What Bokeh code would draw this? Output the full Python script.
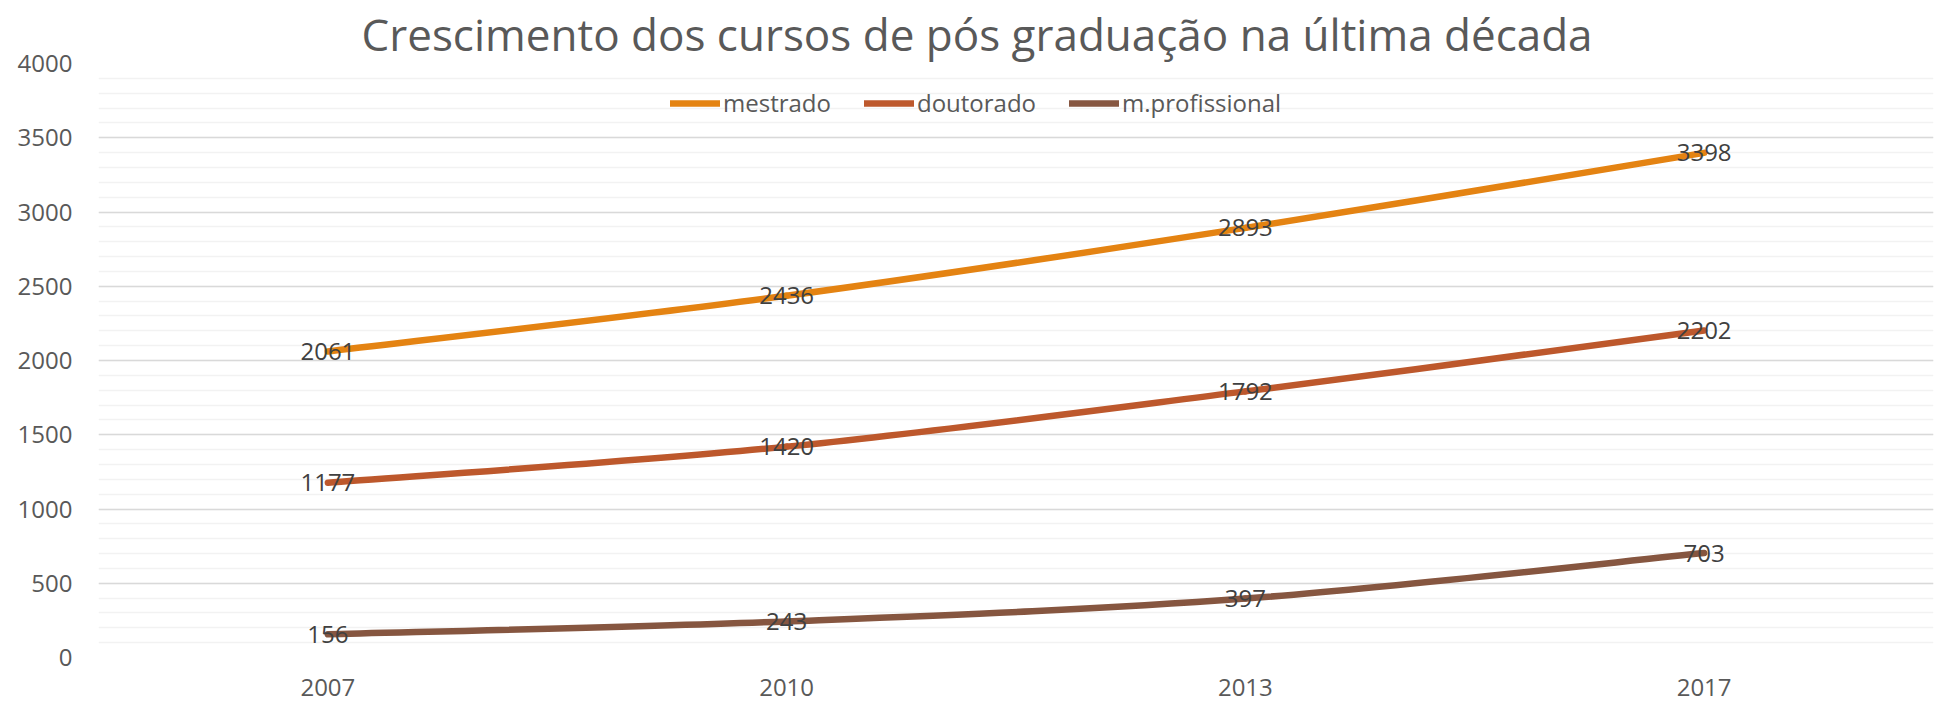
from bokeh.plotting import figure
from bokeh.models import ColumnDataSource, Range1d, SingleIntervalTicker, FixedTicker, Legend, LegendItem
from bokeh.core.properties import value
from bokeh.embed import file_html
from bokeh.resources import INLINE

# ---- data ----
years = ["2007", "2010", "2013", "2017"]
mestrado = [2061, 2436, 2893, 3398]
doutorado = [1177, 1420, 1792, 2202]
m_profissional = [156, 243, 397, 703]
series_names = ["mestrado", "doutorado", "m.profissional"]
series_values = [mestrado, doutorado, m_profissional]
series_colors = ["#E48312", "#BD582C", "#865640"]

FONT = "Open Sans"
W, H = 1937, 704

p = figure(width=W, height=H, output_backend="svg", toolbar_location=None,
           x_range=Range1d(-0.5, len(years) - 0.5), y_range=Range1d(0, 4000),
           min_border_left=98, min_border_right=4, min_border_top=63, min_border_bottom=47)
p.outline_line_color = None
p.background_fill_color = "white"
p.border_fill_color = "white"

# title
p.title.text = "Crescimento dos cursos de pós graduação na última década"
p.title.align = "left"
p.title.offset = 263
p.title.standoff = 0
p.title.text_font = FONT
p.title.text_font_size = "44px"
p.title.text_font_style = "normal"
p.title.text_color = "#595959"

# axes
p.yaxis.ticker = SingleIntervalTicker(interval=500, num_minor_ticks=5)
p.xaxis.ticker = FixedTicker(ticks=list(range(len(years))))
p.xaxis.major_label_overrides = {i: y for i, y in enumerate(years)}
for ax in (p.xaxis[0], p.yaxis[0]):
    ax.axis_line_color = None
    ax.major_tick_line_color = None
    ax.minor_tick_line_color = None
    ax.major_label_text_font = FONT
    ax.major_label_text_font_size = "24px"
    ax.major_label_text_color = "#595959"
p.yaxis.major_label_standoff = 20
p.xaxis.major_label_standoff = 15

p.xgrid.grid_line_color = None
p.ygrid.grid_line_color = "#D9D9D9"
p.ygrid.grid_line_width = 1.5
p.ygrid.minor_grid_line_color = "#F2F2F2"
p.ygrid.minor_grid_line_width = 1.5

# smoothed lines (Catmull-Rom style Bezier segments, as Excel smoothing)
items = []
n = len(years)
for name, vals, col in zip(series_names, series_values, series_colors):
    xs = list(range(n))
    x0, y0, x1, y1, cx0, cy0, cx1, cy1 = [], [], [], [], [], [], [], []
    for i in range(n - 1):
        ip = max(i - 1, 0)
        inx = min(i + 2, n - 1)
        x0.append(xs[i]); y0.append(vals[i])
        x1.append(xs[i + 1]); y1.append(vals[i + 1])
        cx0.append(xs[i] + (xs[i + 1] - xs[ip]) / 6.0)
        cy0.append(vals[i] + (vals[i + 1] - vals[ip]) / 6.0)
        cx1.append(xs[i + 1] - (xs[inx] - xs[i]) / 6.0)
        cy1.append(vals[i + 1] - (vals[inx] - vals[i]) / 6.0)
    src = ColumnDataSource(dict(x0=x0, y0=y0, x1=x1, y1=y1, cx0=cx0, cy0=cy0, cx1=cx1, cy1=cy1))
    r = p.bezier(x0="x0", y0="y0", x1="x1", y1="y1", cx0="cx0", cy0="cy0", cx1="cx1", cy1="cy1",
                 source=src, line_color=col, line_width=6.5, line_cap="round")
    items.append(LegendItem(label=name, renderers=[r]))

# data labels
for vals in series_values:
    p.text(x=list(range(n)), y=vals, text=[str(v) for v in vals],
           text_align="center", text_baseline="middle",
           text_font=value(FONT), text_font_size="24px", text_color="#404040")

legend = Legend(items=items, orientation="horizontal", location=(572, 538))
legend.background_fill_alpha = 0
legend.border_line_color = None
legend.padding = 0
legend.margin = 0
legend.spacing = 33
legend.glyph_width = 50
legend.glyph_height = 20
legend.label_standoff = 3
legend.label_text_font = FONT
legend.label_text_font_size = "24px"
legend.label_text_color = "#595959"
p.add_layout(legend, "center")

open("out.html", "w").write(file_html(p, INLINE))
